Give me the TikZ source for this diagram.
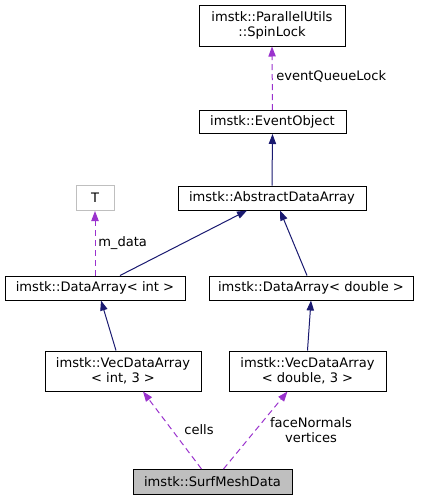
\documentclass[tikz,border=0pt]{standalone}
\usepackage{fontspec}
\setmainfont{DejaVu Sans}
\usetikzlibrary{arrows.meta,calc}
\definecolor{edgeinherit}{rgb}{0.098,0.098,0.439}
\definecolor{edgeusage}{rgb}{0.604,0.196,0.804}
\definecolor{nodegray}{rgb}{0.749,0.749,0.749}

\begin{document}
\begin{tikzpicture}[x=0.75pt,y=-0.75pt,
  every node/.style={font=\fontsize{9.8}{11.5}\selectfont,inner sep=0pt},
  classbox/.style={draw=black,line width=0.75pt,fill=white,align=center},
  inherit/.style={edgeinherit,line width=0.75pt,-{Triangle[length=7.5pt,width=5.5pt]}},
  usage/.style={edgeusage,line width=0.75pt,dash pattern=on 4.5pt off 3pt,-{Triangle[length=7.5pt,width=5.5pt]}}]
\useasboundingbox (0,0) rectangle (421,501);
\node[classbox,minimum width=109.5pt,minimum height=30.75pt] (lock) at (272,25.5) {imstk::ParallelUtils\\::SpinLock};
\node[classbox,minimum width=110.25pt,minimum height=17.25pt] (event) at (272.5,122) {imstk::EventObject};
\node[classbox,minimum width=141pt,minimum height=18pt] (abstract) at (272,198) {imstk::AbstractDataArray};
\node[classbox,draw=nodegray,minimum width=28.5pt,minimum height=18.75pt] (T) at (95,198) {T};
\node[classbox,minimum width=135pt,minimum height=18pt] (dai) at (95,288) {imstk::DataArray< int >};
\node[classbox,minimum width=153pt,minimum height=18pt] (dad) at (311,288) {imstk::DataArray< double >};
\node[classbox,minimum width=117pt,minimum height=30pt] (vint) at (123,371) {imstk::VecDataArray\\< int, 3 >};
\node[classbox,minimum width=117.75pt,minimum height=30pt] (vdbl) at (307.5,371) {imstk::VecDataArray\\< double, 3 >};
\node[classbox,fill=nodegray,minimum width=119.25pt,minimum height=18.75pt] (surf) at (212.5,482) {imstk::SurfMeshData};
\draw[usage] (event.north) -- (lock.south);
\draw[inherit] (abstract.north) -- (event.south);
\draw[inherit] ($(dai.north)+(25,0)$) -- ($(abstract.south)+(-25,0)$);
\draw[inherit] ($(dad.north)+(-4,0)$) -- ($(abstract.south)+(8,0)$);
\draw[usage] (dai.north) -- (T.south);
\draw[inherit] ($(vint.north)+(-7,0)$) -- ($(dai.south)+(6,0)$);
\draw[inherit] (vdbl.north) -- (dad.south);
\draw[usage] ($(surf.north)+(-11,0)$) -- ($(vint.south)+(20,0)$);
\draw[usage] ($(surf.north)+(11,0)$) -- ($(vdbl.south)+(-20,0)$);
\node[anchor=west] (lbllock) at (276,76) {eventQueueLock};
\node[anchor=west] (lbldata) at (98,243) {m\_data};
\node (lblcells) at (199,430) {cells};
\node[align=center] (lblvert) at (311,430) {faceNormals\\vertices};
\end{tikzpicture}
\end{document}
